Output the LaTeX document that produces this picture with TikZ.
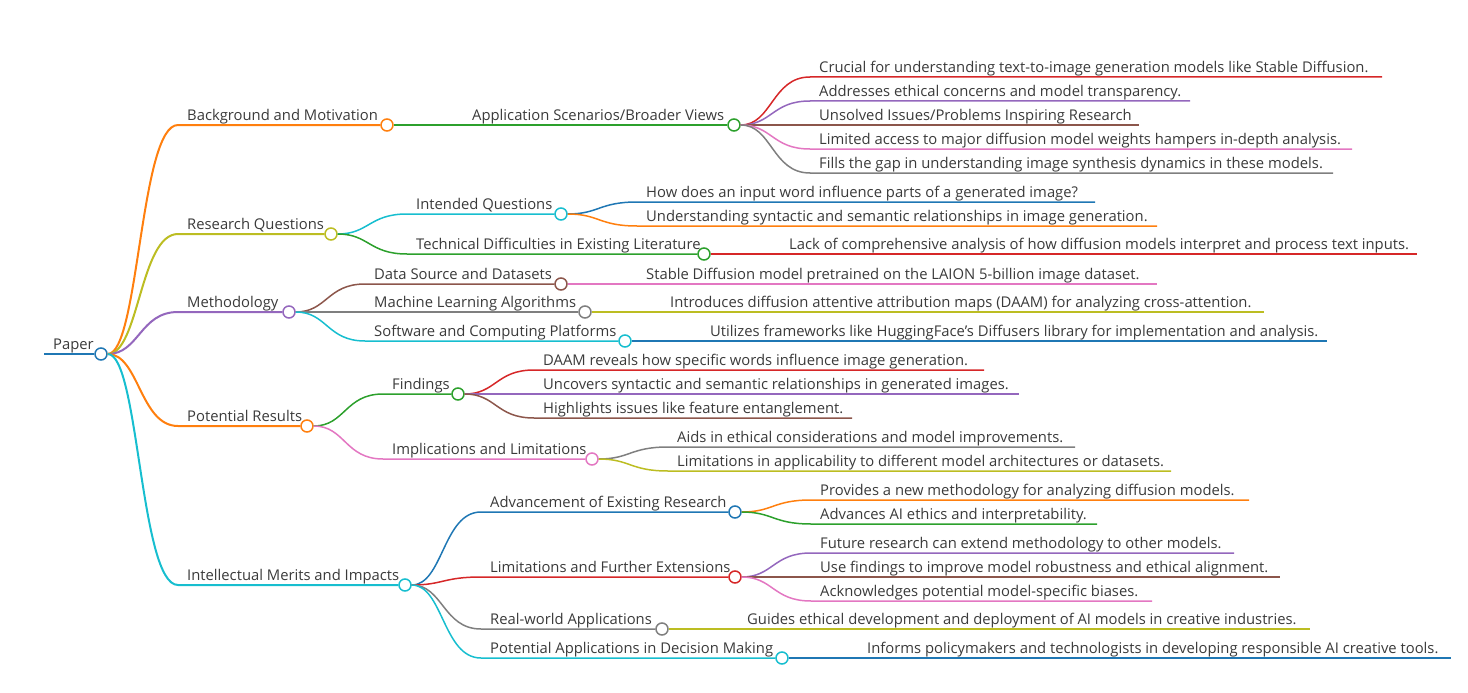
\documentclass[tikz,border=0pt]{standalone}
\usepackage{fontspec}
\setmainfont{Open Sans}
\definecolor{mmBlue}{RGB}{31,119,180}
\definecolor{mmOrange}{RGB}{255,127,14}
\definecolor{mmGreen}{RGB}{44,160,44}
\definecolor{mmRed}{RGB}{214,39,40}
\definecolor{mmPurple}{RGB}{148,103,189}
\definecolor{mmBrown}{RGB}{140,86,75}
\definecolor{mmPink}{RGB}{227,119,194}
\definecolor{mmGray}{RGB}{127,127,127}
\definecolor{mmOlive}{RGB}{188,189,34}
\definecolor{mmCyan}{RGB}{23,190,207}
\definecolor{labelColor}{RGB}{58,58,58}
\tikzset{topic/.style={anchor=base west, inner sep=0pt, xshift=9pt, yshift=4.5pt, text=labelColor, font=\fontsize{14.8}{17}\selectfont},
         knob/.style={circle, draw, fill=white, line width=1.5pt, minimum size=12pt, inner sep=0pt},
         twig/.style={to path={.. controls +(38,0) and +(-38,0) .. (\tikztotarget)}}}

\begin{document}
\begin{tikzpicture}[x=1pt, y=-1pt]

    \useasboundingbox (0,0) rectangle (1468,693);

    % Root
    \coordinate (root-s) at (44,354);
    \node (root) [knob, draw=mmBlue] at (101,354) {};
    \node (root-t) [topic] at (root-s) {Paper};

    % First level
    \coordinate (bg-s) at (178,125);
    \node (bg) [knob, draw=mmOrange] at (387,125) {};
    \node (bg-t) [topic] at (bg-s) {Background and Motivation};
    \coordinate (rq-s) at (178,234);
    \node (rq) [knob, draw=mmOlive] at (331,234) {};
    \node (rq-t) [topic] at (rq-s) {Research Questions};
    \coordinate (meth-s) at (178,312);
    \node (meth) [knob, draw=mmPurple] at (289,312) {};
    \node (meth-t) [topic] at (meth-s) {Methodology};
    \coordinate (pr-s) at (178,426);
    \node (pr) [knob, draw=mmOrange] at (307,426) {};
    \node (pr-t) [topic] at (pr-s) {Potential Results};
    \coordinate (imi-s) at (178,585);
    \node (imi) [knob, draw=mmCyan] at (405,585) {};
    \node (imi-t) [topic] at (imi-s) {Intellectual Merits and Impacts};

    % Second level
    \coordinate (app-s) at (463,125);
    \node (app) [knob, draw=mmGreen] at (734,125) {};
    \node (app-t) [topic] at (app-s) {Application Scenarios/Broader Views};
    \coordinate (iq-s) at (407,214);
    \node (iq) [knob, draw=mmCyan] at (561,214) {};
    \node (iq-t) [topic] at (iq-s) {Intended Questions};
    \coordinate (td-s) at (407,254);
    \node (td) [knob, draw=mmGreen] at (704,254) {};
    \node (td-t) [topic] at (td-s) {Technical Difficulties in Existing Literature};
    \coordinate (ds-s) at (365,284);
    \node (ds) [knob, draw=mmBrown] at (561,284) {};
    \node (ds-t) [topic] at (ds-s) {Data Source and Datasets};
    \coordinate (ml-s) at (365,312);
    \node (ml) [knob, draw=mmGray] at (585,312) {};
    \node (ml-t) [topic] at (ml-s) {Machine Learning Algorithms};
    \coordinate (sw-s) at (365,341);
    \node (sw) [knob, draw=mmCyan] at (625,341) {};
    \node (sw-t) [topic] at (sw-s) {Software and Computing Platforms};
    \coordinate (fi-s) at (383,394);
    \node (fi) [knob, draw=mmGreen] at (458,394) {};
    \node (fi-t) [topic] at (fi-s) {Findings};
    \coordinate (il-s) at (383,459);
    \node (il) [knob, draw=mmPink] at (592,459) {};
    \node (il-t) [topic] at (il-s) {Implications and Limitations};
    \coordinate (aer-s) at (481,512);
    \node (aer) [knob, draw=mmBlue] at (735,512) {};
    \node (aer-t) [topic] at (aer-s) {Advancement of Existing Research};
    \coordinate (lfe-s) at (481,577);
    \node (lfe) [knob, draw=mmRed] at (735,577) {};
    \node (lfe-t) [topic] at (lfe-s) {Limitations and Further Extensions};
    \coordinate (rwa-s) at (481,629);
    \node (rwa) [knob, draw=mmGray] at (662,629) {};
    \node (rwa-t) [topic] at (rwa-s) {Real-world Applications};
    \coordinate (pad-s) at (481,658);
    \node (pad) [knob, draw=mmCyan] at (782,658) {};
    \node (pad-t) [topic] at (pad-s) {Potential Applications in Decision Making};

    % Leaves
    \coordinate (crucial-s) at (810,77);   \coordinate (crucial-e) at (1382,77);
    \node (crucial-t) [topic] at (crucial-s) {Crucial for understanding text-to-image generation models like Stable Diffusion.};
    \coordinate (addr-s) at (810,101);     \coordinate (addr-e) at (1190,101);
    \node (addr-t) [topic] at (addr-s) {Addresses ethical concerns and model transparency.};
    \coordinate (unsolved-s) at (810,125); \coordinate (unsolved-e) at (1139,125);
    \node (unsolved-t) [topic] at (unsolved-s) {Unsolved Issues/Problems Inspiring Research};
    \coordinate (limited-s) at (810,149);  \coordinate (limited-e) at (1352,149);
    \node (limited-t) [topic] at (limited-s) {Limited access to major diffusion model weights hampers in-depth analysis.};
    \coordinate (fills-s) at (810,173);    \coordinate (fills-e) at (1333,173);
    \node (fills-t) [topic] at (fills-s) {Fills the gap in understanding image synthesis dynamics in these models.};
    \coordinate (how-s) at (637,202);      \coordinate (how-e) at (1095,202);
    \node (how-t) [topic] at (how-s) {How does an input word influence parts of a generated image?};
    \coordinate (und-s) at (637,226);      \coordinate (und-e) at (1157,226);
    \node (und-t) [topic] at (und-s) {Understanding syntactic and semantic relationships in image generation.};
    \coordinate (lack-s) at (780,254);     \coordinate (lack-e) at (1417,254);
    \node (lack-t) [topic] at (lack-s) {Lack of comprehensive analysis of how diffusion models interpret and process text inputs.};
    \coordinate (stable-s) at (637,284);   \coordinate (stable-e) at (1157,284);
    \node (stable-t) [topic] at (stable-s) {Stable Diffusion model pretrained on the LAION 5-billion image dataset.};
    \coordinate (intro-s) at (661,312);    \coordinate (intro-e) at (1264,312);
    \node (intro-t) [topic] at (intro-s) {Introduces diffusion attentive attribution maps (DAAM) for analyzing cross-attention.};
    \coordinate (util-s) at (701,341);     \coordinate (util-e) at (1327,341);
    \node (util-t) [topic] at (util-s) {Utilizes frameworks like HuggingFace’s Diffusers library for implementation and analysis.};
    \coordinate (daam-s) at (534,370);     \coordinate (daam-e) at (984,370);
    \node (daam-t) [topic] at (daam-s) {DAAM reveals how specific words influence image generation.};
    \coordinate (unc-s) at (534,394);      \coordinate (unc-e) at (1019,394);
    \node (unc-t) [topic] at (unc-s) {Uncovers syntactic and semantic relationships in generated images.};
    \coordinate (high-s) at (534,418);     \coordinate (high-e) at (852,418);
    \node (high-t) [topic] at (high-s) {Highlights issues like feature entanglement.};
    \coordinate (aids-s) at (668,447);     \coordinate (aids-e) at (1075,447);
    \node (aids-t) [topic] at (aids-s) {Aids in ethical considerations and model improvements.};
    \coordinate (lima-s) at (668,471);     \coordinate (lima-e) at (1171,471);
    \node (lima-t) [topic] at (lima-s) {Limitations in applicability to different model architectures or datasets.};
    \coordinate (prov-s) at (811,500);     \coordinate (prov-e) at (1249,500);
    \node (prov-t) [topic] at (prov-s) {Provides a new methodology for analyzing diffusion models.};
    \coordinate (adv-s) at (811,524);      \coordinate (adv-e) at (1097,524);
    \node (adv-t) [topic] at (adv-s) {Advances AI ethics and interpretability.};
    \coordinate (fut-s) at (811,553);      \coordinate (fut-e) at (1234,553);
    \node (fut-t) [topic] at (fut-s) {Future research can extend methodology to other models.};
    \coordinate (use-s) at (811,577);      \coordinate (use-e) at (1280,577);
    \node (use-t) [topic] at (use-s) {Use findings to improve model robustness and ethical alignment.};
    \coordinate (ack-s) at (811,601);      \coordinate (ack-e) at (1152,601);
    \node (ack-t) [topic] at (ack-s) {Acknowledges potential model-specific biases.};
    \coordinate (guide-s) at (738,629);    \coordinate (guide-e) at (1310,629);
    \node (guide-t) [topic] at (guide-s) {Guides ethical development and deployment of AI models in creative industries.};
    \coordinate (inf-s) at (858,658);      \coordinate (inf-e) at (1451,658);
    \node (inf-t) [topic] at (inf-s) {Informs policymakers and technologists in developing responsible AI creative tools.};

    % Connectors
    \begin{scope}[line width=1.5pt]

        \draw [mmBlue, line width=2.5pt] (root-s) -- (root);

        \draw [mmOrange, line width=2pt] (root) to[twig] (bg-s) -- (bg);
        \draw [mmOlive, line width=2pt] (root) to[twig] (rq-s) -- (rq);
        \draw [mmPurple, line width=2pt] (root) to[twig] (meth-s) -- (meth);
        \draw [mmOrange, line width=2pt] (root) to[twig] (pr-s) -- (pr);
        \draw [mmCyan, line width=2pt] (root) to[twig] (imi-s) -- (imi);

        \draw [mmGreen] (bg) to[twig] (app-s) -- (app);
        \draw [mmCyan] (rq) to[twig] (iq-s) -- (iq);
        \draw [mmGreen] (rq) to[twig] (td-s) -- (td);
        \draw [mmBrown] (meth) to[twig] (ds-s) -- (ds);
        \draw [mmGray] (meth) to[twig] (ml-s) -- (ml);
        \draw [mmCyan] (meth) to[twig] (sw-s) -- (sw);
        \draw [mmGreen] (pr) to[twig] (fi-s) -- (fi);
        \draw [mmPink] (pr) to[twig] (il-s) -- (il);
        \draw [mmBlue] (imi) to[twig] (aer-s) -- (aer);
        \draw [mmRed] (imi) to[twig] (lfe-s) -- (lfe);
        \draw [mmGray] (imi) to[twig] (rwa-s) -- (rwa);
        \draw [mmCyan] (imi) to[twig] (pad-s) -- (pad);

        \draw [mmRed] (app) to[twig] (crucial-s) -- (crucial-e);
        \draw [mmPurple] (app) to[twig] (addr-s) -- (addr-e);
        \draw [mmBrown] (app) to[twig] (unsolved-s) -- (unsolved-e);
        \draw [mmPink] (app) to[twig] (limited-s) -- (limited-e);
        \draw [mmGray] (app) to[twig] (fills-s) -- (fills-e);
        \draw [mmBlue] (iq) to[twig] (how-s) -- (how-e);
        \draw [mmOrange] (iq) to[twig] (und-s) -- (und-e);
        \draw [mmRed] (td) to[twig] (lack-s) -- (lack-e);
        \draw [mmPink] (ds) to[twig] (stable-s) -- (stable-e);
        \draw [mmOlive] (ml) to[twig] (intro-s) -- (intro-e);
        \draw [mmBlue] (sw) to[twig] (util-s) -- (util-e);
        \draw [mmRed] (fi) to[twig] (daam-s) -- (daam-e);
        \draw [mmPurple] (fi) to[twig] (unc-s) -- (unc-e);
        \draw [mmBrown] (fi) to[twig] (high-s) -- (high-e);
        \draw [mmGray] (il) to[twig] (aids-s) -- (aids-e);
        \draw [mmOlive] (il) to[twig] (lima-s) -- (lima-e);
        \draw [mmOrange] (aer) to[twig] (prov-s) -- (prov-e);
        \draw [mmGreen] (aer) to[twig] (adv-s) -- (adv-e);
        \draw [mmPurple] (lfe) to[twig] (fut-s) -- (fut-e);
        \draw [mmBrown] (lfe) to[twig] (use-s) -- (use-e);
        \draw [mmPink] (lfe) to[twig] (ack-s) -- (ack-e);
        \draw [mmOlive] (rwa) to[twig] (guide-s) -- (guide-e);
        \draw [mmBlue] (pad) to[twig] (inf-s) -- (inf-e);

    \end{scope}

\end{tikzpicture}
\end{document}
